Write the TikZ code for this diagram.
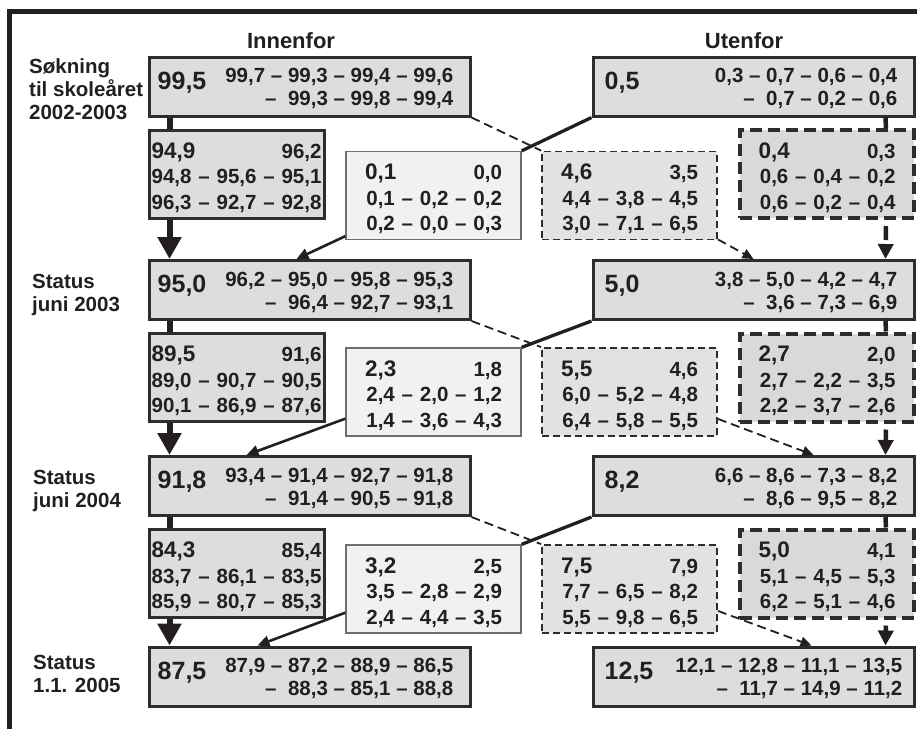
\documentclass[tikz,border=0pt]{standalone}
\usepackage{fontspec}
\setmainfont{Liberation Sans}
\usetikzlibrary{arrows.meta}

\definecolor{ink}{RGB}{35,31,32}
\definecolor{frame}{RGB}{45,45,45}
\definecolor{edgegray}{RGB}{110,110,110}
\definecolor{boxfill}{RGB}{220,221,223}
\definecolor{palefill}{RGB}{241,242,240}
\definecolor{outfill}{RGB}{225,226,228}
\definecolor{stayfill}{RGB}{216,217,219}

\newcommand\leadnum[1]{{\fontsize{22.5}{25.5}\selectfont\rule{0pt}{23pt}#1}}

\begin{document}
\begin{tikzpicture}[x=1pt,y=-1pt,
        every node/.style={text=ink,inner sep=0pt,font=\fontsize{20.5}{25.5}\selectfont\bfseries},
        head/.style={font=\fontsize{22}{26}\selectfont\bfseries},
        rowlabel/.style={align=left,font=\fontsize{20.5}{23}\selectfont\bfseries},
        mainbox/.style={draw=frame,line width=3pt,fill=boxfill,minimum width=321pt,minimum height=59pt},
        bignum/.style={font=\fontsize{25}{30}\selectfont\bfseries},
        rows/.style={align=right,font=\fontsize{20.5}{23}\selectfont\bfseries},
        stayin/.style={draw=frame,line width=3pt,fill=boxfill,minimum height=88pt,
            text width=170pt,inner xsep=2.5pt,align=right},
        movein/.style={draw=edgegray,line width=1.3pt,fill=palefill,minimum height=88pt,
            text width=137pt,inner xsep=19pt,align=right},
        moveout/.style={draw=frame,line width=1.8pt,dash pattern=on 7pt off 4pt,fill=outfill,
            minimum height=88pt,text width=137pt,inner xsep=19pt,align=right},
        stayout/.style={draw=frame,line width=4pt,dash pattern=on 12pt off 6pt,fill=stayfill,
            minimum height=88pt,text width=137pt,inner xsep=18.5pt,align=right},
        spine/.style={draw=ink,line width=6pt},
        spinetip/.style={spine,-{Triangle[length=22pt,width=23pt]}},
        outspine/.style={draw=ink,line width=4.5pt},
        outtip/.style={outspine,dash pattern=on 14pt off 6pt,dash phase=14pt,-{Triangle[length=15pt,width=15pt]}},
        cross/.style={draw=ink,line width=3.3pt},
        crosstip/.style={draw=ink,line width=2.6pt,-{Triangle[length=12pt,width=11pt]}},
        dashcross/.style={draw=ink,line width=1.8pt,dash pattern=on 9pt off 5pt},
        dashtip/.style={dashcross,-{Triangle[length=11pt,width=10pt]}}]
    \useasboundingbox (0,0) rectangle (917,729);
    \draw[line width=5pt,ink] (9,729) -- (9,11) -- (917,11);

    % column heads and row labels
    \node[head] (innhead) at (291,41) {Innenfor};
    \node[head] (uthead) at (744,41) {Utenfor};
    \node[rowlabel,anchor=west] (lab0) at (29,89) {Søkning\\til skoleåret\\2002-2003};
    \node[rowlabel,anchor=west] (lab1) at (32,295) {Status\\juni 2003};
    \node[rowlabel,anchor=west] (lab2) at (33,491) {Status\\juni 2004};
    \node[rowlabel,anchor=west] (lab3) at (33,674) {Status\\1.1. 2005};

    % Innenfor, main boxes
    \node[mainbox] (inn0) at (309.5,86.5) {};
    \node[bignum,anchor=base west] (inn0num) at ([xshift=10pt,yshift=-2.5pt]inn0.west) {99,5};
    \node[rows,anchor=east] (inn0row) at ([xshift=-18pt,yshift=-2pt]inn0.east) {99,7 – 99,3 – 99,4 – 99,6\\–~~99,3 – 99,8 – 99,4};
    \node[mainbox] (inn1) at (309.5,290) {};
    \node[bignum,anchor=base west] (inn1num) at ([xshift=10pt,yshift=-2.5pt]inn1.west) {95,0};
    \node[rows,anchor=east] (inn1row) at ([xshift=-18pt,yshift=-2pt]inn1.east) {96,2 – 95,0 – 95,8 – 95,3\\–~~96,4 – 92,7 – 93,1};
    \node[mainbox] (inn2) at (309.5,486) {};
    \node[bignum,anchor=base west] (inn2num) at ([xshift=10pt,yshift=-2.5pt]inn2.west) {91,8};
    \node[rows,anchor=east] (inn2row) at ([xshift=-18pt,yshift=-2pt]inn2.east) {93,4 – 91,4 – 92,7 – 91,8\\–~~91,4 – 90,5 – 91,8};
    \node[mainbox] (inn3) at (309.5,676.5) {};
    \node[bignum,anchor=base west] (inn3num) at ([xshift=10pt,yshift=-2.5pt]inn3.west) {87,5};
    \node[rows,anchor=east] (inn3row) at ([xshift=-18pt,yshift=-2pt]inn3.east) {87,9 – 87,2 – 88,9 – 86,5\\–~~88,3 – 85,1 – 88,8};

    % Utenfor, main boxes
    \node[mainbox] (ut0) at (753.5,86.5) {};
    \node[bignum,anchor=base west] (ut0num) at ([xshift=13pt,yshift=-2.5pt]ut0.west) {0,5};
    \node[rows,anchor=east] (ut0row) at ([xshift=-18pt,yshift=-2pt]ut0.east) {0,3 – 0,7 – 0,6 – 0,4\\–~~0,7 – 0,2 – 0,6};
    \node[mainbox] (ut1) at (753.5,290) {};
    \node[bignum,anchor=base west] (ut1num) at ([xshift=13pt,yshift=-2.5pt]ut1.west) {5,0};
    \node[rows,anchor=east] (ut1row) at ([xshift=-18pt,yshift=-2pt]ut1.east) {3,8 – 5,0 – 4,2 – 4,7\\–~~3,6 – 7,3 – 6,9};
    \node[mainbox] (ut2) at (753.5,486) {};
    \node[bignum,anchor=base west] (ut2num) at ([xshift=13pt,yshift=-2.5pt]ut2.west) {8,2};
    \node[rows,anchor=east] (ut2row) at ([xshift=-18pt,yshift=-2pt]ut2.east) {6,6 – 8,6 – 7,3 – 8,2\\–~~8,6 – 9,5 – 8,2};
    \node[mainbox] (ut3) at (753.5,676.5) {};
    \node[bignum,anchor=base west] (ut3num) at ([xshift=13pt,yshift=-2.5pt]ut3.west) {12,5};
    \node[rows,anchor=east] (ut3row) at ([xshift=-13pt,yshift=-2pt]ut3.east) {12,1 – 12,8 – 11,1 – 13,5\\–~~11,7 – 14,9 – 11,2};

    % boxes between the rows: stay in, move in, move out, stay out
    \node[stayin] (blirinn0) at (236.5,174) {\leadnum{94,9}\hfill 96,2\\94,8~–~95,6~–~95,1\\96,3~–~92,7~–~92,8};
    \node[movein] (tilinn0) at (433.5,195.5) {\leadnum{0,1}\hfill 0,0\\0,1~–~0,2~–~0,2\\0,2~–~0,0~–~0,3};
    \node[moveout] (tilut0) at (629.5,195.5) {\leadnum{4,6}\hfill 3,5\\4,4~–~3,8~–~4,5\\3,0~–~7,1~–~6,5};
    \node[stayout] (blirut0) at (827,174) {\leadnum{0,4}\hfill 0,3\\0,6~–~0,4~–~0,2\\0,6~–~0,2~–~0,4};

    \node[stayin] (blirinn1) at (236.5,377.5) {\leadnum{89,5}\hfill 91,6\\89,0~–~90,7~–~90,5\\90,1~–~86,9~–~87,6};
    \node[movein] (tilinn1) at (433.5,392) {\leadnum{2,3}\hfill 1,8\\2,4~–~2,0~–~1,2\\1,4~–~3,6~–~4,3};
    \node[moveout] (tilut1) at (629.5,392) {\leadnum{5,5}\hfill 4,6\\6,0~–~5,2~–~4,8\\6,4~–~5,8~–~5,5};
    \node[stayout] (blirut1) at (827,377.5) {\leadnum{2,7}\hfill 2,0\\2,7~–~2,2~–~3,5\\2,2~–~3,7~–~2,6};

    \node[stayin] (blirinn2) at (236.5,573.5) {\leadnum{84,3}\hfill 85,4\\83,7~–~86,1~–~83,5\\85,9~–~80,7~–~85,3};
    \node[movein] (tilinn2) at (433.5,589) {\leadnum{3,2}\hfill 2,5\\3,5~–~2,8~–~2,9\\2,4~–~4,4~–~3,5};
    \node[moveout] (tilut2) at (629.5,589) {\leadnum{7,5}\hfill 7,9\\7,7~–~6,5~–~8,2\\5,5~–~9,8~–~6,5};
    \node[stayout] (blirut2) at (827,573.5) {\leadnum{5,0}\hfill 4,1\\5,1~–~4,5~–~5,3\\6,2~–~5,1~–~4,6};

    % Innenfor spine
    \draw[spine] ([xshift=22pt]inn0.south west) -- ([xshift=22pt]blirinn0.north west);
    \draw[spinetip] ([xshift=22pt]blirinn0.south west) -- ([xshift=22pt]inn1.north west);
    \draw[spine] ([xshift=22pt]inn1.south west) -- ([xshift=22pt]blirinn1.north west);
    \draw[spinetip] ([xshift=22pt]blirinn1.south west) -- ([xshift=22pt]inn2.north west);
    \draw[spine] ([xshift=22pt]inn2.south west) -- ([xshift=22pt]blirinn2.north west);
    \draw[spinetip] ([xshift=22pt]blirinn2.south west) -- ([xshift=22pt]inn3.north west);

    % Utenfor spine
    \draw[outspine] ([xshift=-30pt]ut0.south east) -- ([xshift=-30pt]blirut0.north east);
    \draw[outtip] ([xshift=-30pt]blirut0.south east) -- ([xshift=-30pt]ut1.north east);
    \draw[outspine] ([xshift=-30pt]ut1.south east) -- ([xshift=-30pt]blirut1.north east);
    \draw[outtip] ([xshift=-30pt]blirut1.south east) -- ([xshift=-30pt]ut2.north east);
    \draw[outspine] ([xshift=-30pt]ut2.south east) -- ([xshift=-30pt]blirut2.north east);
    \draw[outtip] ([xshift=-30pt]blirut2.south east) -- ([xshift=-30pt]ut3.north east);

    % Innenfor -> Utenfor (dashed)
    \draw[dashcross] (inn0.south east) -- (tilut0.north west);
    \draw[dashtip] ([yshift=1pt]tilut0.south east) -- ([xshift=162pt]ut1.north west);
    \draw[dashcross] (inn1.south east) -- (tilut1.north west);
    \draw[dashtip] ([yshift=18pt]tilut1.south east) -- ([xshift=222pt]ut2.north west);
    \draw[dashcross] (inn2.south east) -- (tilut2.north west);
    \draw[dashtip] ([yshift=23pt]tilut2.south east) -- ([xshift=220pt]ut3.north west);

    % Utenfor -> Innenfor (solid)
    \draw[cross] (ut0.south west) -- (tilinn0.north east);
    \draw[crosstip] ([yshift=4pt]tilinn0.south west) -- ([xshift=149pt]inn1.north west);
    \draw[cross] (ut1.south west) -- (tilinn1.north east);
    \draw[crosstip] ([yshift=18pt]tilinn1.south west) -- ([xshift=99pt]inn2.north west);
    \draw[cross] (ut2.south west) -- (tilinn2.north east);
    \draw[crosstip] ([yshift=21pt]tilinn2.south west) -- ([xshift=110pt]inn3.north west);
\end{tikzpicture}
\end{document}
